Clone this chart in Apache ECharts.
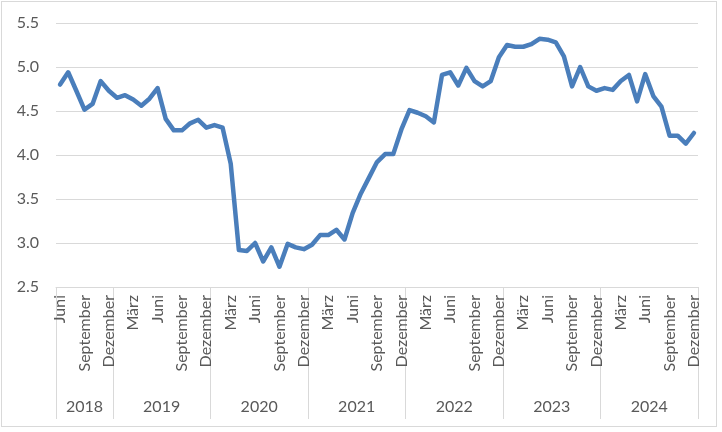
<html>

<head>
  <meta charset="utf-8">
  <script src="https://cdn.jsdelivr.net/npm/echarts@6/dist/echarts.min.js"></script>
  <style>
    body { margin: 0; background: #fff; }
    #main { position: absolute; left: 1px; top: 1px; width: 714px; height: 424px; border: 1px solid #d9d9d9; }
  </style>
</head>

<body>
  <div id="main"></div>
  <script>
    // monthly values, June 2018 .. December 2024
    var monthNames = ['Januar', 'Februar', 'März', 'April', 'Mai', 'Juni', 'Juli', 'August', 'September', 'Oktober', 'November', 'Dezember'];
    var years = ['2018', '2019', '2020', '2021', '2022', '2023', '2024'];
    var firstMonth = 5; // June
    var values = [
      4.80, 4.94, 4.73, 4.515, 4.58, 4.84, 4.73,
      4.65, 4.68, 4.63, 4.56, 4.64, 4.76, 4.41, 4.28, 4.28, 4.36, 4.40, 4.31,
      4.34, 4.31, 3.90, 2.92, 2.91, 3.00, 2.79, 2.95, 2.73, 2.99, 2.95, 2.93,
      2.98, 3.09, 3.09, 3.15, 3.04, 3.34, 3.56, 3.74, 3.92, 4.01, 4.01, 4.29,
      4.51, 4.48, 4.44, 4.37, 4.91, 4.94, 4.79, 4.99, 4.84, 4.78, 4.84, 5.11,
      5.25, 5.23, 5.23, 5.26, 5.32, 5.31, 5.28, 5.12, 4.78, 5.00, 4.78, 4.73,
      4.76, 4.74, 4.84, 4.91, 4.61, 4.92, 4.67, 4.55, 4.22, 4.22, 4.13, 4.25
    ];

    var categories = values.map((v, i) => monthNames[(firstMonth + i) % 12]);
    var yearOf = values.map((v, i) => years[Math.floor((firstMonth + i) / 12)]);

    // year label sits in the middle of its months, on a half-month axis
    var halfSteps = [];
    for (let j = 0; j <= values.length * 2; j++) halfSteps.push('');
    years.forEach(y => {
      const first = yearOf.indexOf(y);
      const last = yearOf.lastIndexOf(y) + 1;
      halfSteps[first + last] = y;
    });

    var textColor = '#595959';
    var lineColor = '#d9d9d9';
    var font = 'Lato';

    var myChart = echarts.init(document.getElementById('main'));
    option = {
      animation: false,
      grid: {
        left: 54,
        right: 18,
        top: 21,
        bottom: 139
      },
      xAxis: [{
          type: 'category',
          data: categories,
          axisLine: {
            lineStyle: { color: lineColor, width: 1 }
          },
          axisTick: {
            show: true,
            length: 132,
            interval: function (index) {
              return index === 0 || (firstMonth + index) % 12 === 0;
            },
            lineStyle: { color: lineColor, width: 1 }
          },
          axisLabel: {
            rotate: 90,
            margin: 8,
            showMinLabel: true,
            showMaxLabel: true,
            interval: function (index) {
              return index % 3 === 0;
            },
            color: textColor,
            fontFamily: font,
            fontSize: 16
          }
        },
        {
          type: 'category',
          data: halfSteps,
          boundaryGap: false,
          position: 'bottom',
          offset: 104,
          axisLine: { show: false },
          axisTick: { show: false },
          axisLabel: {
            interval: 0,
            margin: 8,
            color: textColor,
            fontFamily: font,
            fontSize: 16
          }
        }
      ],
      yAxis: {
        type: 'value',
        min: 2.5,
        max: 5.5,
        interval: 0.5,
        axisLine: { show: false },
        axisTick: { show: false },
        splitLine: {
          lineStyle: { color: lineColor, width: 1 }
        },
        axisLabel: {
          margin: 17,
          color: textColor,
          fontFamily: font,
          fontSize: 16,
          formatter: function (value) {
            return value.toFixed(1);
          }
        }
      },
      series: [{
        name: 'Wert',
        type: 'line',
        data: values,
        showSymbol: false,
        symbol: 'none',
        lineStyle: {
          color: '#4a7ebb',
          width: 4.5,
          join: 'round',
          cap: 'round'
        }
      }]
    };

    myChart.setOption(option);

  </script>
</body>

</html>
